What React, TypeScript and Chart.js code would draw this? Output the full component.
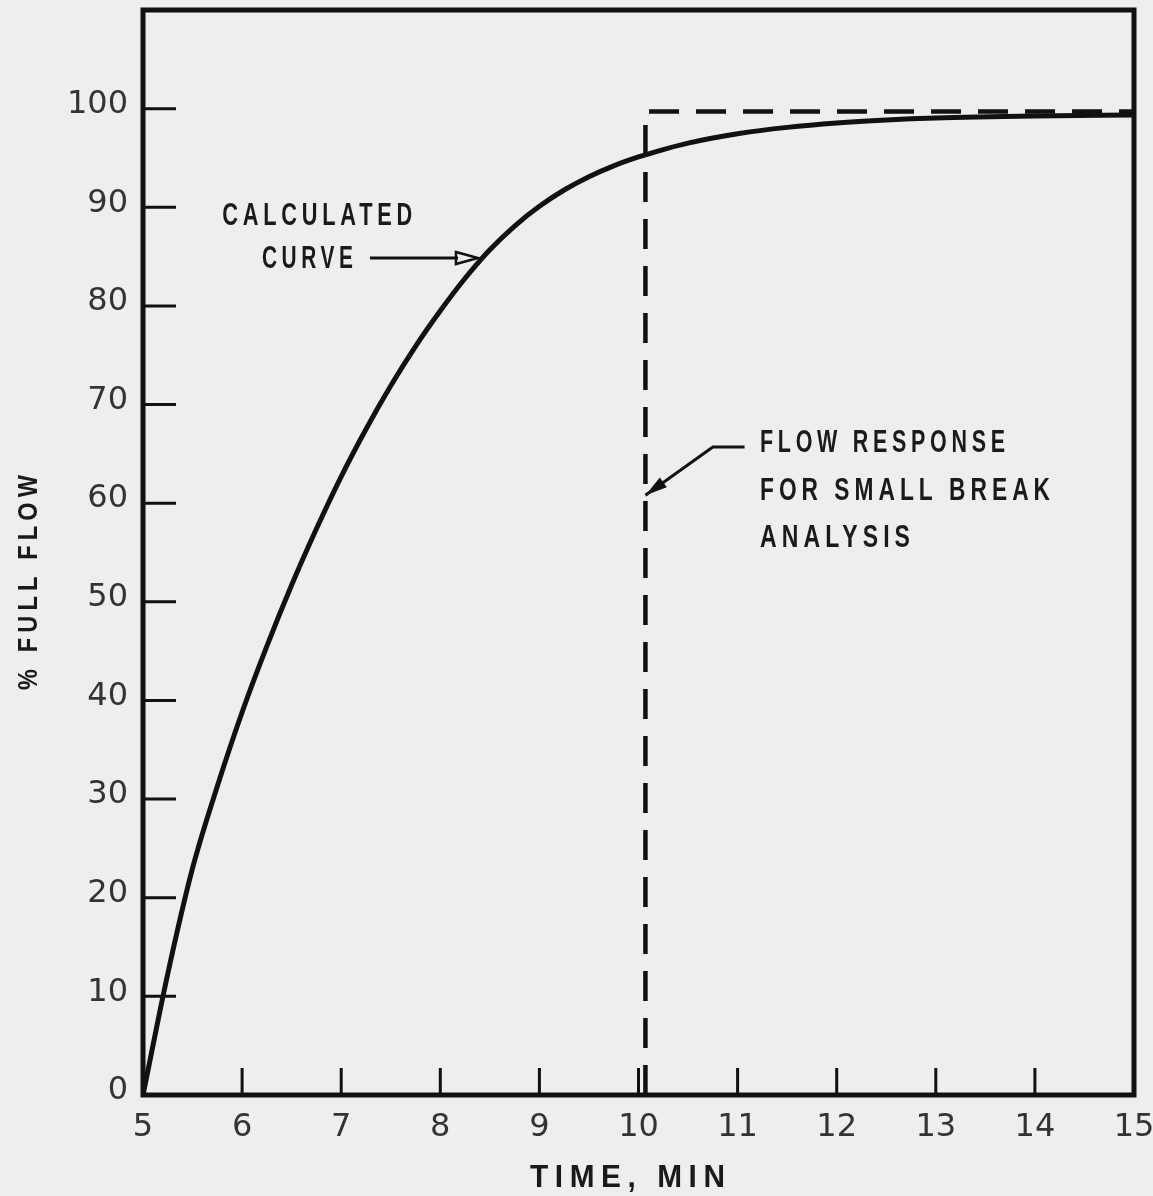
import React, { useEffect, useRef } from "react";
import { Chart, registerables } from "chart.js";

Chart.register(...registerables);

// ---- data ----
const timeMin = [5, 5.25, 5.5, 5.75, 6, 6.25, 6.5, 6.75, 7, 7.25, 7.5, 7.75, 8, 8.25, 8.5, 8.75, 9, 9.25, 9.5, 9.75, 10, 10.25, 10.5, 11, 11.5, 12, 12.5, 13, 14, 15];
const flowPct = [0, 12.3, 23.0, 31.3, 38.8, 45.5, 51.7, 57.4, 62.7, 67.5, 71.9, 75.9, 79.5, 82.8, 85.7, 88.1, 90.1, 91.75, 93.1, 94.2, 95.1, 95.85, 96.5, 97.45, 98.1, 98.55, 98.85, 99.05, 99.25, 99.35];

const stepTime = [10.07, 10.07, 15];
const stepFlow = [0, 99.7, 99.7];

const xTickValues = [5, 6, 7, 8, 9, 10, 11, 12, 13, 14, 15];
const yTickValues = [0, 10, 20, 30, 40, 50, 60, 70, 80, 90, 100];

const xAxisTitle = "TIME, MIN";
const yAxisTitle = "% FULL FLOW";
const curveLabel = ["CALCULATED", "CURVE"];
const responseLabel = ["FLOW RESPONSE", "FOR SMALL BREAK", "ANALYSIS"];

// ---- layout / style (not data) ----
const W = 1153;
const H = 1196;
const BG = "#eeeeee";
const INK = "#111111";

function spacedText(
  ctx: CanvasRenderingContext2D,
  text: string,
  x: number,
  y: number,
  width: number,
  cap: number,
  rotate = false
) {
  ctx.save();
  const size = cap / 0.72;
  const spacing = size * 0.22;
  ctx.font = `bold ${size}px "Liberation Sans", Arial, sans-serif`;
  (ctx as any).letterSpacing = `${spacing}px`;
  const measured = ctx.measureText(text).width - spacing;
  const sx = width / measured;
  ctx.translate(x, y);
  if (rotate) ctx.rotate(-Math.PI / 2);
  ctx.scale(sx, 1);
  ctx.textAlign = "left";
  ctx.textBaseline = "alphabetic";
  ctx.fillStyle = "#1a1a1a";
  ctx.fillText(text, 0, 0);
  ctx.restore();
}

const decorPlugin = {
  id: "decor",
  beforeDraw(chart: any) {
    const ctx = chart.ctx as CanvasRenderingContext2D;
    ctx.save();
    ctx.fillStyle = BG;
    ctx.fillRect(0, 0, chart.width, chart.height);
    ctx.restore();
  },
  afterDraw(chart: any) {
    const ctx = chart.ctx as CanvasRenderingContext2D;
    const xs = chart.scales.x;
    const ys = chart.scales.y;
    const a = chart.chartArea;
    const px = (t: number) => xs.getPixelForValue(t);
    const py = (v: number) => ys.getPixelForValue(v);

    ctx.save();
    // frame
    ctx.strokeStyle = INK;
    ctx.lineWidth = 5;
    ctx.strokeRect(a.left, a.top, a.right - a.left, a.bottom - a.top);

    // inward ticks
    ctx.lineWidth = 3;
    ctx.beginPath();
    for (const v of yTickValues) {
      if (v === 0) continue;
      const y = py(v);
      ctx.moveTo(a.left, y);
      ctx.lineTo(a.left + 33, y);
    }
    for (const t of xTickValues) {
      if (t === xTickValues[0] || t === xTickValues[xTickValues.length - 1]) continue;
      const x = px(t);
      ctx.moveTo(x, a.bottom);
      ctx.lineTo(x, a.bottom - 27);
    }
    ctx.stroke();

    // arrow 1: to calculated curve (open head)
    ctx.lineWidth = 3;
    const ax0 = px(7.29), ax1 = px(8.38), ay = py(84.85);
    ctx.beginPath();
    ctx.moveTo(ax0, ay);
    ctx.lineTo(ax1 - 20, ay);
    ctx.stroke();
    ctx.lineWidth = 2.5;
    ctx.beginPath();
    ctx.moveTo(ax1 - 22, ay - 6);
    ctx.lineTo(ax1, ay);
    ctx.lineTo(ax1 - 22, ay + 6);
    ctx.closePath();
    ctx.stroke();

    // arrow 2: to flow response (filled head)
    ctx.lineWidth = 3;
    const b0x = px(11.07), b1x = px(10.75), by = py(65.7);
    const tipx = px(10.07), tipy = py(60.8);
    ctx.beginPath();
    ctx.moveTo(b0x, by);
    ctx.lineTo(b1x, by);
    ctx.lineTo(tipx, tipy);
    ctx.stroke();
    const ang = Math.atan2(tipy - by, tipx - b1x);
    const hl = 22, hw = 6;
    ctx.beginPath();
    ctx.moveTo(tipx, tipy);
    ctx.lineTo(tipx - hl * Math.cos(ang) + hw * Math.sin(ang), tipy - hl * Math.sin(ang) - hw * Math.cos(ang));
    ctx.lineTo(tipx - hl * Math.cos(ang) - hw * Math.sin(ang), tipy - hl * Math.sin(ang) + hw * Math.cos(ang));
    ctx.closePath();
    ctx.fillStyle = INK;
    ctx.fill();
    ctx.restore();

    // annotation texts
    spacedText(ctx, curveLabel[0], px(5.8), py(88.2), 190, 22);
    spacedText(ctx, curveLabel[1], px(6.2), py(83.85), 91, 22);
    spacedText(ctx, responseLabel[0], px(11.226), py(65.19), 245, 23);
    spacedText(ctx, responseLabel[1], px(11.226), py(60.32), 290, 23);
    spacedText(ctx, responseLabel[2], px(11.226), py(55.56), 150, 23);

    // axis titles
    spacedText(ctx, xAxisTitle, 530, 1187, 195, 23);
    spacedText(ctx, yAxisTitle, 37, 690, 215, 20, true);
  },
};

export default function App() {
  const ref = useRef<HTMLCanvasElement | null>(null);

  useEffect(() => {
    if (!ref.current) return;
    const chart = new Chart(ref.current, {
      type: "line",
      data: {
        datasets: [
          {
            label: "Calculated curve",
            data: timeMin.map((t, i) => ({ x: t, y: flowPct[i] })),
            borderColor: INK,
            borderWidth: 5,
            pointRadius: 0,
            cubicInterpolationMode: "monotone",
            fill: false,
          },
          {
            label: "Flow response for small break analysis",
            data: stepTime.map((t, i) => ({ x: t, y: stepFlow[i] })),
            borderColor: INK,
            borderWidth: 4.5,
            borderDash: [30, 17],
            pointRadius: 0,
            tension: 0,
            fill: false,
          },
        ],
      },
      options: {
        responsive: false,
        animation: false,
        layout: { padding: { top: 10, right: 19, left: 0, bottom: 0 } },
        plugins: {
          legend: { display: false },
          tooltip: { enabled: false },
        },
        scales: {
          x: {
            type: "linear",
            min: 5,
            max: 15,
            afterBuildTicks: (s: any) => {
              s.ticks = xTickValues.map((v) => ({ value: v }));
            },
            afterFit: (s: any) => {
              s.height = 101;
              s.paddingLeft = 0;
              s.paddingRight = 0;
            },
            grid: { display: false, drawTicks: false },
            border: { display: false },
            ticks: {
              autoSkip: false,
              maxRotation: 0,
              padding: 13,
              color: "#333333",
              font: { family: '"DejaVu Sans", sans-serif', size: 32 },
            },
          },
          y: {
            type: "linear",
            min: 0,
            max: 110,
            afterBuildTicks: (s: any) => {
              s.ticks = yTickValues.map((v) => ({ value: v }));
            },
            afterFit: (s: any) => {
              s.width = 143;
              s.paddingTop = 0;
              s.paddingBottom = 0;
            },
            grid: { display: false, drawTicks: false },
            border: { display: false },
            ticks: {
              autoSkip: false,
              padding: 15,
              labelOffset: -4,
              color: "#333333",
              font: { family: '"DejaVu Sans", sans-serif', size: 32 },
            },
          },
        },
      },
      plugins: [decorPlugin],
    } as any);
    return () => chart.destroy();
  }, []);

  return (
    <div style={{ position: "absolute", left: 0, top: 0, width: W, height: H, background: BG }}>
      <canvas ref={ref} width={W} height={H} style={{ display: "block", width: W, height: H }} />
    </div>
  );
}
